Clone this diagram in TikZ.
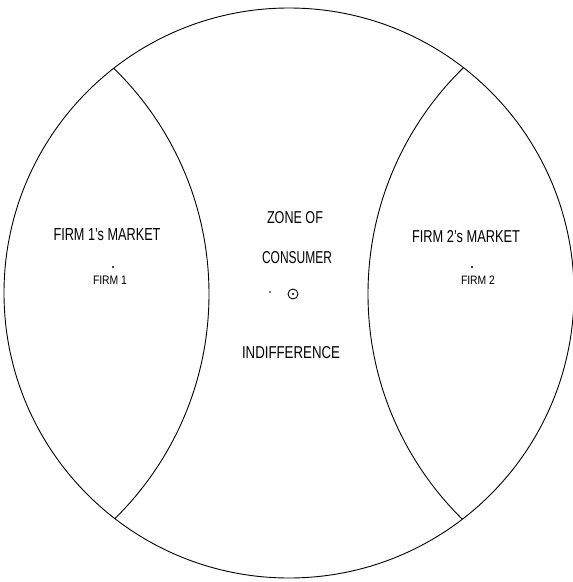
\documentclass[tikz,border=0pt]{standalone}
\usepackage{fontspec}
\setmainfont{Liberation Sans}
\newcommand{\condtext}[3]{\resizebox{#1pt}{#2pt}{#3}}
\tikzset{
  rim/.style={line width=0.9pt, draw=black},
  label/.style={inner sep=0pt, anchor=center, font=\fontsize{16}{18}\selectfont},
  dotmark/.style={fill=black, inner sep=0pt, circle}
}
\begin{document}
\begin{tikzpicture}[x=1pt,y=-1pt]
\useasboundingbox (0,0) rectangle (573,582);
\coordinate (c) at (289,293);
\coordinate (lc) at (-106,294);
\coordinate (rc) at (684,294);
\draw[rim] (c) circle[radius=285];
\begin{scope}
  \clip (c) circle[radius=285];
  \draw[rim] (lc) circle[radius=315];
  \draw[rim] (rc) circle[radius=316];
\end{scope}
% labels
\node[label] (m1) at (107,235) {\condtext{107}{12}{FIRM 1's MARKET}};
\node[label] (m2) at (466,237) {\condtext{108}{12}{FIRM 2's MARKET}};
\node[label] (z1) at (295,218) {\condtext{56}{12}{ZONE OF}};
\node[label] (z2) at (297,258) {\condtext{70}{12}{CONSUMER}};
\node[label] (z3) at (291,353) {\condtext{98}{12}{INDIFFERENCE}};
\node[label] (f1) at (110,280) {\condtext{34}{8.5}{FIRM 1}};
\node[label] (f2) at (478,280) {\condtext{34}{8.5}{FIRM 2}};
% firm locations
\node[dotmark, minimum size=2.2pt] (p1) at (113,267) {};
\node[dotmark, minimum size=2.2pt] (p2) at (472,267) {};
% centre mark
\node[draw=black, circle, line width=0.9pt, minimum size=10pt, inner sep=0pt] (ctr) at (293,294) {};
\node[dotmark, minimum size=2.4pt] (ctrdot) at (ctr.center) {};
\node[dotmark, minimum size=1.6pt] (sd) at (270,292) {};
\end{tikzpicture}
\end{document}
